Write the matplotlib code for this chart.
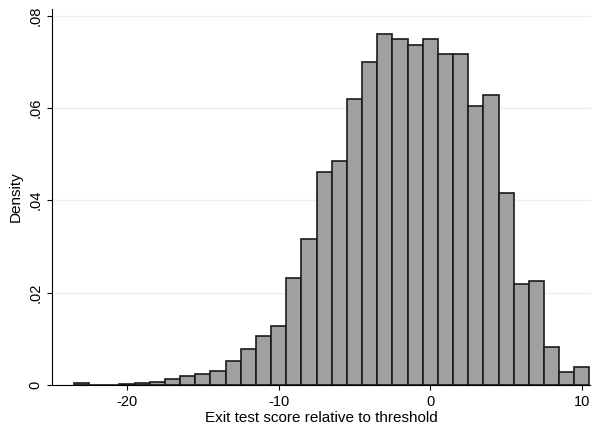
import matplotlib
matplotlib.use("Agg")
import matplotlib.pyplot as plt
import numpy as np

plt.rcParams["font.family"] = ["Liberation Sans", "DejaVu Sans"]
plt.rcParams["axes.unicode_minus"] = False

centers = np.arange(-23, 11)
density = [0.0003, 0, 0, 0.0002, 0.0003, 0.0006, 0.0012, 0.0020, 0.0024, 0.0030,
           0.0052, 0.0078, 0.0105, 0.0128, 0.0232, 0.0317, 0.0462, 0.0485, 0.0620,
           0.0700, 0.0761, 0.0749, 0.0736, 0.0749, 0.0717, 0.0717, 0.0605, 0.0627,
           0.0416, 0.0219, 0.0225, 0.0082, 0.0027, 0.0039]
xticks = [-20, -10, 0, 10]
yticks = [0, 0.02, 0.04, 0.06, 0.08]
ylabels = ["0", ".02", ".04", ".06", ".08"]

fig = plt.figure(figsize=(5.91, 4.30), dpi=100)
ax = fig.add_axes([0.088, 0.105, 0.912, 0.875])
ax.bar(centers, density, width=1.0, color="#a0a0a0", edgecolor="#1a1a1a", linewidth=1.2, zorder=2)
ax.set_xlim(-24.95, 10.6)
ax.set_ylim(0, 0.0815)
ax.set_xticks(xticks)
ax.set_yticks(yticks)
ax.set_yticklabels(ylabels, rotation=90, va="center")
ax.grid(axis="y", color="#eaf0f0", linewidth=1, zorder=0)
for s in ["top", "right"]:
    ax.spines[s].set_visible(False)
ax.tick_params(labelsize=10.5)
ax.set_xlabel("Exit test score relative to threshold", fontsize=11, labelpad=2)
ax.set_ylabel("Density", fontsize=11)
fig.savefig("out.png")
